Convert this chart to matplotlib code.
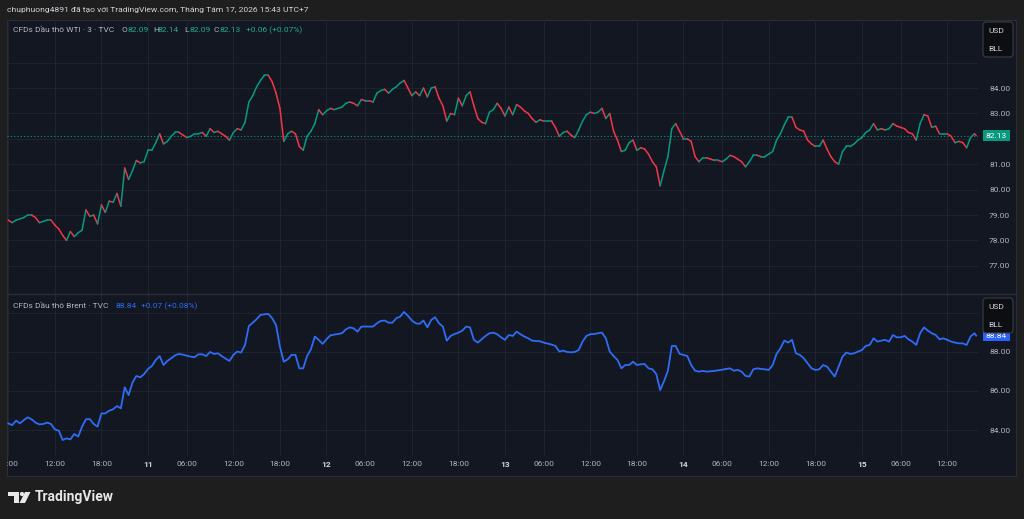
import numpy as np
import matplotlib.pyplot as plt
from matplotlib.collections import LineCollection
from matplotlib.patches import FancyBboxPatch, Rectangle, Polygon, Circle
from matplotlib.transforms import Affine2D, blended_transform_factory

plt.rcParams['font.family'] = ['Roboto', 'DejaVu Sans']

# ---------------- data ----------------
header = "chuphuong4891 đã tạo với TradingView.com, Tháng Tám 17, 2026 15:43 UTC+7"
wti_name = "CFDs Dầu thô WTI · 3 · TVC"
wti_ohlc = [("O", "82.09"), ("H", "82.14"), ("L", "82.09"), ("C", "82.13")]
wti_change = "+0.06 (+0.07%)"
wti_last = 82.13
brent_name = "CFDs Dầu thô Brent · TVC"
brent_change = "+0.07 (+0.08%)"
brent_last = 88.84

# first sample, then one every 30 trading minutes, last one at snapshot time
first_time = (10, "06:00")
last_time = (15, "15:43")

wti_close = [
    78.8, 78.7, 78.8, 78.85, 78.9, 79.0, 79.0, 78.9, 78.7, 78.75,
    78.8, 78.8, 78.6, 78.45, 78.2, 78.0, 78.35, 78.15, 78.3, 78.4,
    79.2, 78.95, 79.0, 78.65, 79.4, 79.1, 79.55, 79.5, 79.85, 79.35,
    80.85, 80.4, 80.75, 81.15, 81.05, 81.1, 81.55, 81.55, 81.85, 82.2,
    81.8, 81.9, 82.1, 82.25, 82.25, 82.15, 82.05, 82.1, 82.2, 82.2,
    82.25, 82.1, 82.4, 82.25, 82.3, 82.2, 82.1, 81.95, 82.25, 82.4,
    82.35, 82.65, 83.45, 83.7, 84.05, 84.3, 84.5, 84.5, 84.25, 83.8,
    83.2, 81.9, 82.2, 82.3, 82.2, 81.7, 81.55, 82.1, 82.3, 82.6,
    83.15, 82.95, 83.1, 83.2, 83.15, 83.2, 83.25, 83.4, 83.45, 83.4,
    83.3, 83.55, 83.5, 83.5, 83.45, 83.8, 83.9, 83.95, 83.8, 83.95,
    84.05, 84.2, 84.3, 84.0, 83.7, 83.85, 83.7, 84.0, 83.65, 84.0,
    84.05, 83.6, 83.3, 82.7, 83.0, 82.95, 83.6, 83.3, 83.7, 83.85,
    83.3, 82.8, 82.65, 82.6, 83.05, 83.15, 83.4, 83.2, 82.9, 83.25,
    82.95, 83.35, 83.25, 83.1, 83.0, 82.8, 82.65, 82.75, 82.7, 82.7,
    82.7, 82.45, 82.1, 82.25, 82.3, 82.15, 82.05, 82.35, 82.7, 82.95,
    83.05, 83.0, 83.05, 83.2, 82.8, 83.0, 82.3, 81.95, 81.5, 81.55,
    81.85, 81.95, 81.55, 81.65, 81.6, 81.4, 81.1, 80.9, 80.15, 80.75,
    81.3, 82.4, 82.6, 82.3, 82.0, 82.0, 81.9, 81.3, 81.1, 81.25,
    81.25, 81.2, 81.15, 81.15, 81.1, 81.2, 81.35, 81.3, 81.2, 81.1,
    80.9, 81.1, 81.35, 81.35, 81.3, 81.3, 81.4, 81.5, 81.95, 82.2,
    82.55, 82.85, 82.85, 82.45, 82.35, 82.3, 81.95, 81.8, 81.7, 81.7,
    81.95, 81.6, 81.3, 81.1, 81.0, 81.5, 81.7, 81.7, 81.8, 81.95,
    82.05, 82.25, 82.35, 82.6, 82.35, 82.4, 82.35, 82.4, 82.6, 82.5,
    82.45, 82.4, 82.25, 82.2, 81.95, 82.6, 82.95, 82.9, 82.45, 82.5,
    82.2, 82.2, 82.2, 82.1, 81.85, 81.9, 81.85, 81.65, 82.05, 82.2,
    82.13,
]

brent_close = [
    84.34, 84.25, 84.48, 84.34, 84.51, 84.65, 84.55, 84.38, 84.29, 84.31,
    84.38, 84.31, 84.03, 83.97, 83.49, 83.57, 83.52, 83.80, 83.66, 84.17,
    84.55, 84.56, 84.31, 84.17, 84.85, 84.85, 84.99, 85.06, 85.23, 85.11,
    86.19, 85.79, 86.43, 86.77, 86.70, 86.87, 87.13, 87.28, 87.59, 87.79,
    87.33, 87.54, 87.68, 87.83, 87.90, 87.86, 87.81, 87.76, 87.73, 87.88,
    87.88, 87.79, 88.00, 87.90, 87.93, 87.79, 87.66, 87.54, 87.85, 88.02,
    87.97, 88.36, 89.33, 89.50, 89.68, 89.90, 89.93, 89.95, 89.73, 89.38,
    88.27, 87.50, 87.62, 87.85, 87.85, 87.16, 87.16, 87.79, 88.14, 88.79,
    88.62, 88.41, 88.65, 88.85, 88.89, 88.92, 88.96, 89.16, 89.26, 89.21,
    89.04, 89.30, 89.30, 89.30, 89.30, 89.47, 89.59, 89.61, 89.50, 89.50,
    89.73, 89.81, 90.05, 89.85, 89.61, 89.47, 89.44, 89.61, 89.26, 89.64,
    89.78, 89.47, 89.30, 88.58, 88.82, 88.92, 88.99, 89.09, 89.30, 89.26,
    88.62, 88.48, 88.65, 88.82, 88.96, 88.99, 88.91, 88.75, 88.62, 88.87,
    88.82, 89.04, 88.91, 88.79, 88.70, 88.58, 88.56, 88.55, 88.48, 88.43,
    88.38, 88.31, 88.02, 88.07, 88.00, 87.98, 88.00, 88.10, 88.53, 88.82,
    88.91, 88.92, 88.96, 88.99, 88.70, 88.02, 87.79, 87.59, 87.16, 87.33,
    87.33, 87.50, 87.33, 87.37, 87.38, 87.16, 87.11, 86.87, 86.05, 86.50,
    87.04, 88.31, 88.31, 87.90, 87.85, 87.79, 87.33, 87.04, 86.99, 87.03,
    86.99, 87.01, 87.03, 87.06, 87.09, 87.13, 87.16, 87.04, 87.08, 86.99,
    86.77, 86.74, 87.11, 87.16, 87.13, 87.11, 87.08, 87.33, 87.90, 88.19,
    88.58, 88.48, 88.62, 87.93, 87.85, 87.68, 87.42, 87.16, 87.08, 87.11,
    87.33, 87.25, 86.99, 86.74, 87.25, 87.76, 87.97, 87.90, 87.93, 88.02,
    88.10, 88.31, 88.36, 88.70, 88.53, 88.58, 88.62, 88.53, 88.87, 88.75,
    88.75, 88.82, 88.65, 88.53, 88.36, 88.96, 89.26, 89.09, 88.96, 88.87,
    88.65, 88.70, 88.62, 88.53, 88.48, 88.44, 88.44, 88.36, 88.79, 88.96,
    88.84,
]

# gridlines; only some carry a label (others are hidden by scale widgets)
wti_ticks = [77, 78, 79, 80, 81, 82, 83, 84, 85]
wti_labeled = [77, 78, 79, 80, 81, 83, 84]
brent_ticks = [84, 86, 88, 90]
brent_labeled = [84, 86, 88]
time_days = [10, 11, 12, 13, 14, 15]
time_marks = ["06:00", "12:00", "18:00"]

# ---------------- styling ----------------
W, H = 1024, 519
OUTER = '#1e1e1e'
PANEL = '#131722'
GRID = '#1f2330'
BORDER = '#2a2e39'
TXT = '#d1d4dc'
TXT2 = '#b2b5be'
UP = '#089981'
DOWN = '#f23645'
BLUE = '#2f6cf5'


def session_hours(day, hhmm):
    # trading hours since Aug 10 00:00, daily 04:00-05:00 break removed
    h, m = map(int, hhmm.split(':'))
    t = h + m / 60
    if t >= 5:
        t -= 1
    return (day - 10) * 23 + t


t0 = session_hours(*first_time)
times = np.array([t0 + 0.5 * i for i in range(len(wti_close) - 1)]
                 + [session_hours(*last_time)])
wti = np.array(wti_close)
brent = np.array(brent_close)

fig = plt.figure(figsize=(W / 100, H / 100), dpi=100, facecolor=OUTER)
PX = Affine2D().scale(1 / W, -1 / H).translate(0, 1) + fig.transFigure


def add_ax(x0, y0, x1, y1):
    a = fig.add_axes([x0 / W, 1 - y1 / H, (x1 - x0) / W, (y1 - y0) / H])
    a.set_facecolor('none')
    for s in a.spines.values():
        s.set_visible(False)
    return a


# chart frame
fig.add_artist(Rectangle((7, 20), 1009, 456, transform=PX, fc=PANEL,
                         ec=BORDER, lw=0.8, zorder=-1))

X0, X1 = 7, 978
ax_w = add_ax(X0, 20, X1, 294)
ax_b = add_ax(X0, 294, X1, 455)
ax_t = add_ax(X0, 455, X1, 476)

xlim = (4.83, 129.96)
tick_t, tick_lab, tick_day = [], [], []
for d in time_days:
    for lab in ["00:00"] + time_marks:
        t = session_hours(d, lab)
        if xlim[0] - 2 <= t <= xlim[1]:
            tick_t.append(t)
            tick_lab.append(str(d) if lab == "00:00" else lab)
            tick_day.append(lab == "00:00")

for a, yl, ticks, labeled in [(ax_w, (75.89, 86.68), wti_ticks, wti_labeled),
                             (ax_b, (82.72, 90.97), brent_ticks, brent_labeled)]:
    a.set_xlim(*xlim)
    a.set_ylim(*yl)
    a.set_xticks(tick_t)
    a.set_yticks(ticks)
    a.set_yticklabels([f"{v:.2f}" if v in labeled else "" for v in ticks])
    a.yaxis.tick_right()
    a.tick_params(axis='x', length=0, labelbottom=False)
    a.tick_params(axis='y', length=0, pad=8, labelsize=6, labelcolor=TXT2)
    a.grid(True, color=GRID, lw=0.8)
    a.set_axisbelow(True)

# WTI: direction-coloured price path
pts = np.column_stack([times, wti])
segs = np.stack([pts[:-1], pts[1:]], axis=1)
cols = np.where(np.diff(wti) >= 0, UP, DOWN)
ax_w.add_collection(LineCollection(segs, colors=cols, linewidths=1.1,
                                   capstyle='round', zorder=3))
ax_w.axhline(wti_last, color=UP, lw=0.8, ls=(0, (1, 2)), zorder=2)

# Brent line
ax_b.plot(times, brent, color=BLUE, lw=1.3, zorder=3)

# last price labels on the scale
for a, v, c in [(ax_w, wti_last, UP), (ax_b, brent_last, '#2962ff')]:
    tr = blended_transform_factory(a.transAxes, a.transData)
    a.text(1.0082, v, f"{v:.2f}", transform=tr, color='white', fontsize=6,
           ha='left', va='center', clip_on=False, zorder=6,
           bbox=dict(boxstyle='square,pad=0.35', fc=c, ec='none'))

# time axis labels
ax_t.set_xlim(*xlim)
ax_t.set_ylim(0, 1)
ax_t.set_xticks([])
ax_t.set_yticks([])
for t, lab, isday in zip(tick_t, tick_lab, tick_day):
    tx = ax_t.text(t, 0.55, lab, ha='center', va='center', fontsize=6,
                   color=TXT if isday else TXT2,
                   fontweight='bold' if isday else 'normal', clip_on=True)
    tx.set_clip_box(ax_t.bbox)

# panel separator
fig.add_artist(plt.Line2D([7, 1016], [294, 294], transform=PX, color=BORDER, lw=1))

# currency / unit boxes
for top in (22, 298):
    fig.add_artist(FancyBboxPatch((983, top), 30, 35, transform=PX,
                                  boxstyle='round,pad=0,rounding_size=3',
                                  fc='#0d0e12', ec='#3b3e46', lw=0.8, zorder=4))
    fig.text(988, top + 9, "USD", transform=PX, fontsize=6, color=TXT,
             va='center', ha='left', zorder=5)
    fig.text(988, top + 27, "BLL", transform=PX, fontsize=6, color=TXT,
             va='center', ha='left', zorder=5)

# header and legends
fig.text(7, 10, header, transform=PX, fontsize=6.1, color=TXT, va='center')

fig.text(13, 30, wti_name, transform=PX, fontsize=6, color=TXT2, va='center')
ohlc_x = [122, 153, 184, 214]
for (k, v), x in zip(wti_ohlc, ohlc_x):
    fig.text(x, 30, k, transform=PX, fontsize=6, color=TXT2, va='center')
    fig.text(x + 5, 30, v, transform=PX, fontsize=6, color='#22ab94', va='center')
fig.text(246, 30, wti_change, transform=PX, fontsize=6, color='#22ab94', va='center')

fig.text(13, 306, brent_name, transform=PX, fontsize=6, color=TXT2, va='center')
fig.text(115, 306, f"{brent_last:.2f}", transform=PX, fontsize=6, color=BLUE, va='center')
fig.text(141, 306, brent_change, transform=PX, fontsize=6, color=BLUE, va='center')

# TradingView logo
LOGO = '#e8e8e8'
fig.add_artist(Rectangle((8, 492), 11, 4, transform=PX, fc=LOGO, ec='none'))
fig.add_artist(Rectangle((13.5, 492), 5.5, 11, transform=PX, fc=LOGO, ec='none'))
fig.add_artist(Circle((22, 494), 2.1, transform=PX, fc=LOGO, ec='none'))
fig.add_artist(Polygon([(25, 492), (30.5, 492), (25, 503), (19.5, 503)],
                       transform=PX, fc=LOGO, ec='none'))
fig.text(35, 497.5, "TradingView", transform=PX, fontsize=10, fontweight='bold',
         color=LOGO, va='center', ha='left')

fig.savefig('out.png', dpi=100, facecolor=OUTER)
